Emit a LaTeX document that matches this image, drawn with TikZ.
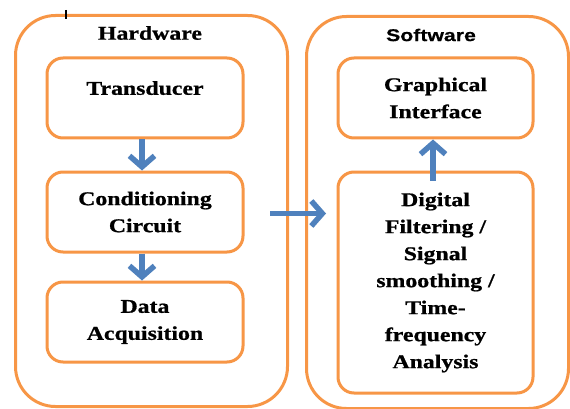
\documentclass[tikz,border=0pt]{standalone}
\usepackage{fontspec}
\setmainfont{Liberation Serif}[FakeStretch=1.22, BoldFeatures={FakeBold=0.8}]
\newfontfamily\swfont{Liberation Sans}[FakeStretch=1.25, BoldFeatures={FakeBold=0.6}]
\usetikzlibrary{arrows.meta}
\definecolor{boxorange}{HTML}{F79646}
\definecolor{arrblue}{HTML}{4F81BD}
\tikzset{
  outerbox/.style={draw=boxorange, line width=3pt, rounded corners=40pt, fill=white},
  innerbox/.style={draw=boxorange, line width=3pt, rounded corners=16pt, fill=white,
    minimum width=196pt, inner sep=0pt, align=center,
    font=\fontsize{19.5}{27}\selectfont\bfseries},
  title/.style={font=\fontsize{19.5}{24}\selectfont\bfseries, inner sep=0pt},
  arr/.style={draw=arrblue, line width=5.5pt,
    -{Straight Barb[length=11pt,width=25pt,line width=5.5pt]}},
}
\begin{document}
\begin{tikzpicture}[x=1pt,y=-1pt]
\useasboundingbox (0,0) rectangle (570,409);
% outer containers
\node[outerbox, minimum width=272pt, minimum height=391pt, anchor=north west] (hw) at (14,14) {};
\node[outerbox, minimum width=262pt, minimum height=392pt, anchor=north west] (sw) at (305,15) {};
\node[title] (hwt) at (150,33) {Hardware};
\node[title, font=\fontsize{17}{20}\selectfont\bfseries\swfont] (swt) at (431,35) {Software};
% hardware blocks
\node[innerbox, minimum height=80pt] (td) at (145,98) {Transducer\\[-7pt]\mbox{}};
\node[innerbox, minimum height=80pt] (cc) at (145,212) {Conditioning\\Circuit};
\node[innerbox, minimum height=80pt] (da) at (145,322) {Data\\Acquisition};
% software blocks
\node[innerbox, minimum width=195pt, minimum height=80pt] (gi) at (435.5,98) {Graphical\\Interface};
\node[innerbox, minimum width=195pt, minimum height=221pt] (dg) at (435.5,282.5) {Digital\\Filtering /\\Signal\\smoothing /\\Time-\\frequency\\Analysis};
% connectors
\draw[arr] ([xshift=-3pt]td.south) -- ([xshift=-3pt]cc.north);
\draw[arr] ([xshift=-3pt]cc.south) -- ([xshift=-3pt]da.north);
\draw[arr, shorten <=-10pt] ([xshift=-2.5pt]dg.north) -- ([xshift=-2.5pt]gi.south);
\draw[arr, shorten <=-19pt, shorten >=-21pt] ([yshift=-2.5pt]hw.east) -- ([yshift=-1pt]sw.west);
% cursor mark
\coordinate (m1) at (66,10);
\coordinate (m2) at (66,19);
\draw[line width=1.2pt] (m1) -- (m2);
\end{tikzpicture}
\end{document}
